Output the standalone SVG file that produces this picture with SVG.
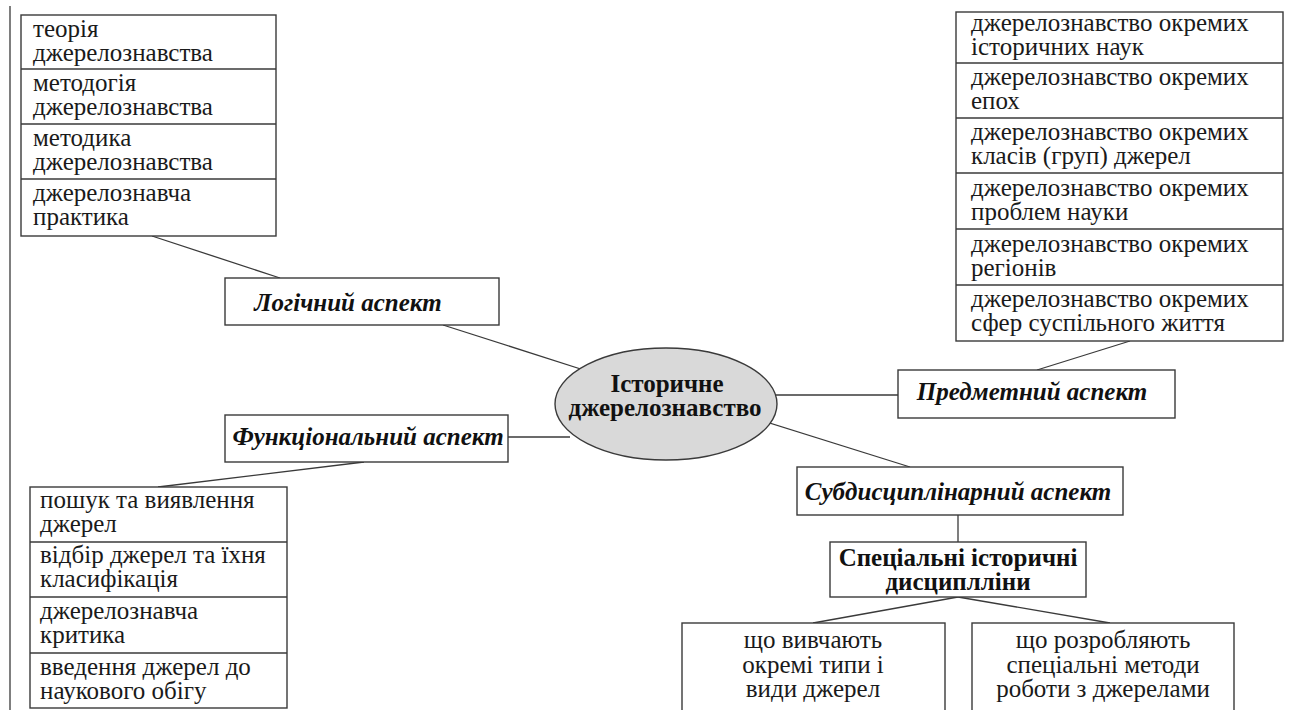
<svg xmlns="http://www.w3.org/2000/svg" width="1289" height="710" viewBox="0 0 1289 710">
<style>
  .bx{fill:#ffffff;stroke:#3a3a3a;stroke-width:1.4}
  .dv{stroke:#3a3a3a;stroke-width:1.3}
  .ln{stroke:#3a3a3a;stroke-width:1.3;fill:none}
  .t{font-family:'Liberation Serif','DejaVu Serif',serif;font-weight:normal;font-style:normal;font-size:25px;fill:#1a1a1a}
  .a{font-family:'Liberation Serif','DejaVu Serif',serif;font-size:25px;font-weight:bold;font-style:italic;fill:#111;text-anchor:middle}
  .b{font-family:'Liberation Serif','DejaVu Serif',serif;font-size:25px;font-weight:bold;fill:#111;text-anchor:middle}
  .c{text-anchor:middle}
</style>
<rect width="1289" height="710" fill="#ffffff"/>
<line x1="10" y1="6" x2="10" y2="710" class="ln"/>

<g id="connectors">
  <line class="ln" x1="152" y1="236" x2="280" y2="278"/>
  <line class="ln" x1="443" y1="325" x2="590" y2="372"/>
  <line class="ln" x1="508" y1="437" x2="570" y2="437"/>
  <line class="ln" x1="364" y1="462" x2="158" y2="487"/>
  <line class="ln" x1="760" y1="395" x2="898" y2="395"/>
  <line class="ln" x1="1037" y1="370" x2="1130" y2="341"/>
  <line class="ln" x1="760" y1="420" x2="910" y2="467"/>
  <line class="ln" x1="958" y1="515" x2="958" y2="542"/>
  <line class="ln" x1="958" y1="597" x2="813" y2="623"/>
  <line class="ln" x1="958" y1="597" x2="1110" y2="623"/>
</g>

<g id="logic-list">
  <rect class="bx" x="21" y="15" width="255" height="221"/>
  <line class="dv" x1="21" y1="69" x2="276" y2="69"/>
  <line class="dv" x1="21" y1="124" x2="276" y2="124"/>
  <line class="dv" x1="21" y1="179" x2="276" y2="179"/>
  <text class="t" x="33" y="37">теорія</text>
  <text class="t" x="33" y="61">джерелознавства</text>
  <text class="t" x="33" y="91">методогія</text>
  <text class="t" x="33" y="115">джерелознавства</text>
  <text class="t" x="33" y="146">методика</text>
  <text class="t" x="33" y="170">джерелознавства</text>
  <text class="t" x="33" y="201">джерелознавча</text>
  <text class="t" x="33" y="225">практика</text>
</g>

<g id="logic">
  <rect class="bx" x="225" y="278" width="274" height="47"/>
  <text class="a" x="348" y="311">Логічний аспект</text>
</g>

<g id="functional">
  <rect class="bx" x="225" y="415" width="283" height="47"/>
  <text class="a" x="368" y="445">Функціональний аспект</text>
</g>

<g id="functional-list">
  <rect class="bx" x="30" y="487" width="257" height="221"/>
  <line class="dv" x1="30" y1="542" x2="287" y2="542"/>
  <line class="dv" x1="30" y1="597" x2="287" y2="597"/>
  <line class="dv" x1="30" y1="653" x2="287" y2="653"/>
  <text class="t" x="40" y="508">пошук та виявлення</text>
  <text class="t" x="40" y="532">джерел</text>
  <text class="t" x="40" y="563">відбір джерел та їхня</text>
  <text class="t" x="40" y="587">класифікація</text>
  <text class="t" x="40" y="619">джерелознавча</text>
  <text class="t" x="40" y="643">критика</text>
  <text class="t" x="40" y="675">введення джерел до</text>
  <text class="t" x="40" y="699">наукового обігу</text>
</g>

<g id="center">
  <ellipse cx="666" cy="404" rx="111" ry="56" fill="#d9d9d9" stroke="#3a3a3a" stroke-width="1.4"/>
  <text class="b" x="667" y="392">Історичне</text>
  <text class="b" x="665" y="416">джерелознавство</text>
</g>

<g id="subject">
  <rect class="bx" x="898" y="370" width="277" height="48"/>
  <text class="a" x="1032" y="400">Предметний аспект</text>
</g>

<g id="subject-list">
  <rect class="bx" x="956" y="12" width="327" height="329"/>
  <line class="dv" x1="956" y1="63" x2="1283" y2="63"/>
  <line class="dv" x1="956" y1="118" x2="1283" y2="118"/>
  <line class="dv" x1="956" y1="173" x2="1283" y2="173"/>
  <line class="dv" x1="956" y1="229" x2="1283" y2="229"/>
  <line class="dv" x1="956" y1="285" x2="1283" y2="285"/>
  <text class="t" x="971" y="31">джерелознавство окремих</text>
  <text class="t" x="971" y="55">історичних наук</text>
  <text class="t" x="971" y="85">джерелознавство окремих</text>
  <text class="t" x="971" y="109">епох</text>
  <text class="t" x="971" y="140">джерелознавство окремих</text>
  <text class="t" x="971" y="164">класів (груп) джерел</text>
  <text class="t" x="971" y="196">джерелознавство окремих</text>
  <text class="t" x="971" y="220">проблем науки</text>
  <text class="t" x="971" y="252">джерелознавство окремих</text>
  <text class="t" x="971" y="276">регіонів</text>
  <text class="t" x="971" y="307">джерелознавство окремих</text>
  <text class="t" x="971" y="331">сфер суспільного життя</text>
</g>

<g id="subdisciplinary">
  <rect class="bx" x="797" y="467" width="326" height="48"/>
  <text class="a" x="958" y="500">Субдисциплінарний аспект</text>
</g>

<g id="special">
  <rect class="bx" x="830" y="542" width="256" height="55"/>
  <text class="b" x="958" y="566">Спеціальні історичні</text>
  <text class="b" x="958" y="590">дисциплліни</text>
</g>

<g id="types">
  <rect class="bx" x="682" y="623" width="263" height="100"/>
  <text class="t c" x="813" y="648">що вивчають</text>
  <text class="t c" x="813" y="673">окремі типи і</text>
  <text class="t c" x="813" y="697">види джерел</text>
</g>

<g id="methods">
  <rect class="bx" x="972" y="623" width="262" height="100"/>
  <text class="t c" x="1103" y="648">що розробляють</text>
  <text class="t c" x="1103" y="673">спеціальні методи</text>
  <text class="t c" x="1103" y="697">роботи з джерелами</text>
</g>
</svg>
